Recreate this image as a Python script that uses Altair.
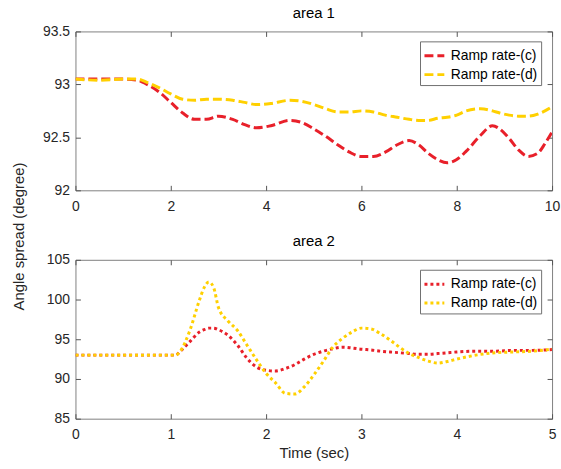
import altair as alt
import pandas as pd

FONT = "Liberation Sans"
RED = "#E8202A"
YEL = "#FFD000"
SERIES = ["Ramp rate-(c)", "Ramp rate-(d)"]

# ---- area 1 ----
t1 = [0, 0.5, 1.0, 1.3, 1.5, 1.75, 2.0, 2.25, 2.5, 2.75, 3.0, 3.3, 3.55, 3.8, 4.1, 4.5,
      4.75, 5.0, 5.25, 5.5, 5.75, 6.0, 6.25, 6.5, 6.75, 7.0, 7.2, 7.4, 7.6, 7.8, 8.0, 8.2,
      8.5, 8.75, 8.9, 9.1, 9.3, 9.5, 9.7, 9.85, 10.0]
a1_c = [93.05, 93.05, 93.05, 93.04, 93.00, 92.93, 92.83, 92.73, 92.67, 92.67, 92.70, 92.67,
        92.62, 92.59, 92.61, 92.66, 92.64, 92.58, 92.51, 92.43, 92.36, 92.32, 92.32, 92.36,
        92.43, 92.47, 92.43, 92.35, 92.29, 92.26, 92.29, 92.37, 92.52, 92.61, 92.58, 92.49,
        92.38, 92.32, 92.35, 92.44, 92.55]
a1_d = [93.05, 93.04, 93.05, 93.05, 93.02, 92.97, 92.91, 92.86, 92.85, 92.86, 92.86, 92.85,
        92.83, 92.81, 92.82, 92.85, 92.84, 92.81, 92.77, 92.74, 92.74, 92.75, 92.74, 92.71,
        92.69, 92.67, 92.66, 92.66, 92.68, 92.69, 92.71, 92.75, 92.77, 92.75, 92.73, 92.71,
        92.70, 92.70, 92.72, 92.75, 92.79]
x1_ticks = [0, 2, 4, 6, 8, 10]
y1_ticks = [92, 92.5, 93, 93.5]

# ---- area 2 ----
t2 = [0, 0.5, 1.0, 1.05, 1.1, 1.2, 1.3, 1.35, 1.4, 1.45, 1.5, 1.6, 1.7, 1.8, 1.9, 2.0,
      2.1, 2.2, 2.3, 2.4, 2.5, 2.6, 2.7, 2.8, 2.9, 3.0, 3.1, 3.2, 3.3, 3.4, 3.5, 3.6, 3.7,
      3.8, 3.9, 4.0, 4.2, 4.4, 4.6, 4.8, 5.0]
a2_c = [93, 93, 93, 93.0, 93.5, 94.7, 95.9, 96.2, 96.4, 96.4, 96.2, 95.5, 94.25, 92.6,
        91.5, 91.1, 91.0, 91.3, 91.8, 92.5, 93.1, 93.5, 93.8, 94.0, 93.9, 93.75, 93.65,
        93.5, 93.4, 93.3, 93.2, 93.1, 93.1, 93.2, 93.3, 93.4, 93.5, 93.5, 93.6, 93.6, 93.7]
a2_d = [93, 93, 93, 93.0, 93.5, 96.1, 99.9, 101.5, 102.2, 101.5, 99.0, 97.3, 96.1, 94.25,
        92.4, 90.7, 89.5, 88.2, 88.1, 89.0, 90.5, 92.2, 94.0, 95.1, 95.9, 96.4, 96.3, 95.7,
        94.9, 94.0, 93.2, 92.7, 92.25, 92.0, 92.2, 92.5, 93.0, 93.3, 93.4, 93.5, 93.75]
x2_ticks = [0, 1, 2, 3, 4, 5]
y2_ticks = [85, 90, 95, 100, 105]

W, H = 480, 160
INTICK = alt.ExprRef(expr="-5")
TICKC = "#555555"
LBLC = "#262626"


def panel(t, yc, yd, title, xdom, ydom, xticks, yticks, dash, yfmt, xtitle, ytitle):
    n = len(t)
    df = pd.DataFrame({"t": list(t) * 2, "v": list(yc) + list(yd),
                       "s": [SERIES[0]] * n + [SERIES[1]] * n})
    xs = alt.Scale(domain=xdom, nice=False, zero=False)
    ys = alt.Scale(domain=ydom, nice=False, zero=False)
    color = alt.Color(
        "s:N", sort=SERIES,
        scale=alt.Scale(domain=SERIES, range=[RED, YEL]),
        legend=alt.Legend(
            title=None, orient="none", legendX=347, legendY=10,
            symbolType="stroke", symbolDash=dash, symbolStrokeWidth=3,
            symbolSize=400, labelFont=FONT, labelFontSize=14, labelColor="#000000",
            strokeColor="#707070", fillColor="#ffffff", padding=3, rowPadding=-4,
            labelOffset=5, symbolOffset=0,
        ),
    )
    ykw = dict(values=yticks, format=yfmt, labelFont=FONT, labelFontSize=14,
               labelColor=LBLC, domain=False, grid=False, tickSize=INTICK,
               tickColor=TICKC, labelPadding=11)
    if ytitle:
        yaxis = alt.Axis(title=ytitle, titleFont=FONT, titleFontSize=15,
                         titleFontWeight="normal", titleColor=LBLC, titleY=206,
                         titleX=-57, titleBaseline="middle", titleAngle=270, **ykw)
    else:
        yaxis = alt.Axis(title=None, **ykw)
    xkw = dict(values=xticks, format="d", labelFont=FONT, labelFontSize=14,
               labelColor=LBLC, domain=False, grid=False, tickSize=INTICK,
               tickColor=TICKC, labelPadding=14, labelFlush=False)
    if xtitle:
        xaxis = alt.Axis(title=xtitle, titleFont=FONT, titleFontSize=15,
                         titleFontWeight="normal", titleColor=LBLC, titlePadding=4,
                         **xkw)
    else:
        xaxis = alt.Axis(title=None, **xkw)
    lines = alt.Chart(df).mark_line(
        strokeWidth=3, strokeDash=dash, interpolate="monotone", clip=True
    ).encode(
        x=alt.X("t:Q", scale=xs, axis=xaxis),
        y=alt.Y("v:Q", scale=ys, axis=yaxis),
        color=color,
        detail="s:N",
    )
    ghost = alt.Chart(df).mark_line(opacity=0).encode(
        x=alt.X("t:Q", scale=xs, axis=alt.Axis(orient="top", values=xticks, labels=False,
                                                 domain=False, grid=False, title=None,
                                                 tickSize=INTICK, tickColor=TICKC)),
        y=alt.Y("v:Q", scale=ys, axis=alt.Axis(orient="right", values=yticks, labels=False,
                                                 domain=False, grid=False, title=None,
                                                 tickSize=INTICK, tickColor=TICKC)),
        detail="s:N",
    )
    return alt.layer(lines, ghost).resolve_axis(x="independent", y="independent").properties(
        width=W, height=H,
        title=alt.TitleParams(title, font=FONT, fontSize=15, fontWeight="normal",
                              color="#000000", offset=4),
    )


p1 = panel(t1, a1_c, a1_d, "area 1", [0, 10], [92, 93.5], x1_ticks, y1_ticks,
           [9, 4], ".1~f", None, "Angle spread (degree)")
p2 = panel(t2, a2_c, a2_d, "area 2", [0, 5], [85, 105], x2_ticks, y2_ticks,
           [3, 3], "d", "Time (sec)", None)

chart = alt.vconcat(p1, p2, spacing=70, bounds="flush").resolve_scale(
    color="independent"
).resolve_legend(color="independent").properties(
    padding={"left": 11, "top": 3, "right": 0, "bottom": 4},
    background="#ffffff",
).configure_view(stroke="#808080", strokeWidth=1)

chart.save("out.html", embed_options={"renderer": "svg", "actions": False})
